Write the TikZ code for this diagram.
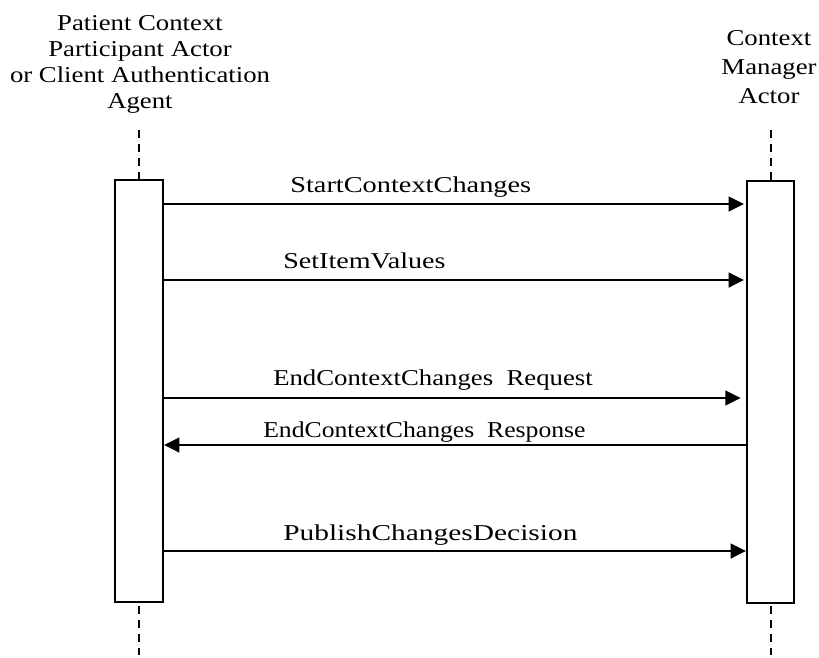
\documentclass[tikz,border=0pt]{standalone}
\usepackage{fontspec}
\setmainfont{Liberation Serif}[FakeStretch=1.18]
\usetikzlibrary{arrows.meta}
\begin{document}
\begin{tikzpicture}[x=0.75pt,y=-0.75pt,
  bar/.style={draw=black,line width=1.5pt,fill=white,inner sep=0pt,minimum width=36pt,minimum height=316.5pt},
  life/.style={line width=1.5pt,dash pattern=on 6pt off 4.5pt},
  msg/.style={line width=1.8pt,-{Triangle[length=11.5pt,width=11pt]}},
  lbl/.style={anchor=base west,inner sep=0pt,font=\fontsize{17}{19.5}\selectfont},
  head/.style={anchor=north,inner sep=0pt,align=center}]
\useasboundingbox (0,0) rectangle (819,658);
\node[head,font=\fontsize{17}{19.5}\selectfont] (hl) at (140,15) {Patient Context\\Participant Actor\\or Client Authentication\\Agent};
\node[head,font=\fontsize{17}{21.75}\selectfont] (hr) at (769,30.5) {Context\\Manager\\Actor};
\coordinate (lt) at (139,130);
\coordinate (lb) at (139,655);
\coordinate (rt) at (771,130);
\coordinate (rb) at (771,655);
\draw[life] (lt) -- (lb);
\draw[life] (rt) -- (rb);
\node[bar] (L) at (139,391) {};
\node[bar,minimum width=35.25pt] (R) at (770.5,391.5) {};
\draw[msg,shorten >=1.5pt] (L.east |- 0,204) -- (R.west |- 0,204);
\draw[msg,shorten >=1.5pt] (L.east |- 0,280) -- (R.west |- 0,280);
\draw[msg,shorten >=4pt] (L.east |- 0,398) -- (R.west |- 0,398);
\draw[msg] (R.west |- 0,445) -- (L.east |- 0,445);
\draw[msg] (L.east |- 0,551) -- (R.west |- 0,551);
\node[lbl] (m1) at (290,192) {\scalebox{1.06}[1]{StartContextChanges}};
\node[lbl] (m2) at (283,268) {\scalebox{1.05}[1]{SetItemValues}};
\node[lbl] (m3) at (273,385) {EndContextChanges\ \ Request};
\node[lbl] (m4) at (263,437) {\scalebox{0.96}[1]{EndContextChanges\ \ Response}};
\node[lbl] (m5) at (283,540) {\scalebox{1.1}[1]{PublishChangesDecision}};
\end{tikzpicture}
\end{document}
